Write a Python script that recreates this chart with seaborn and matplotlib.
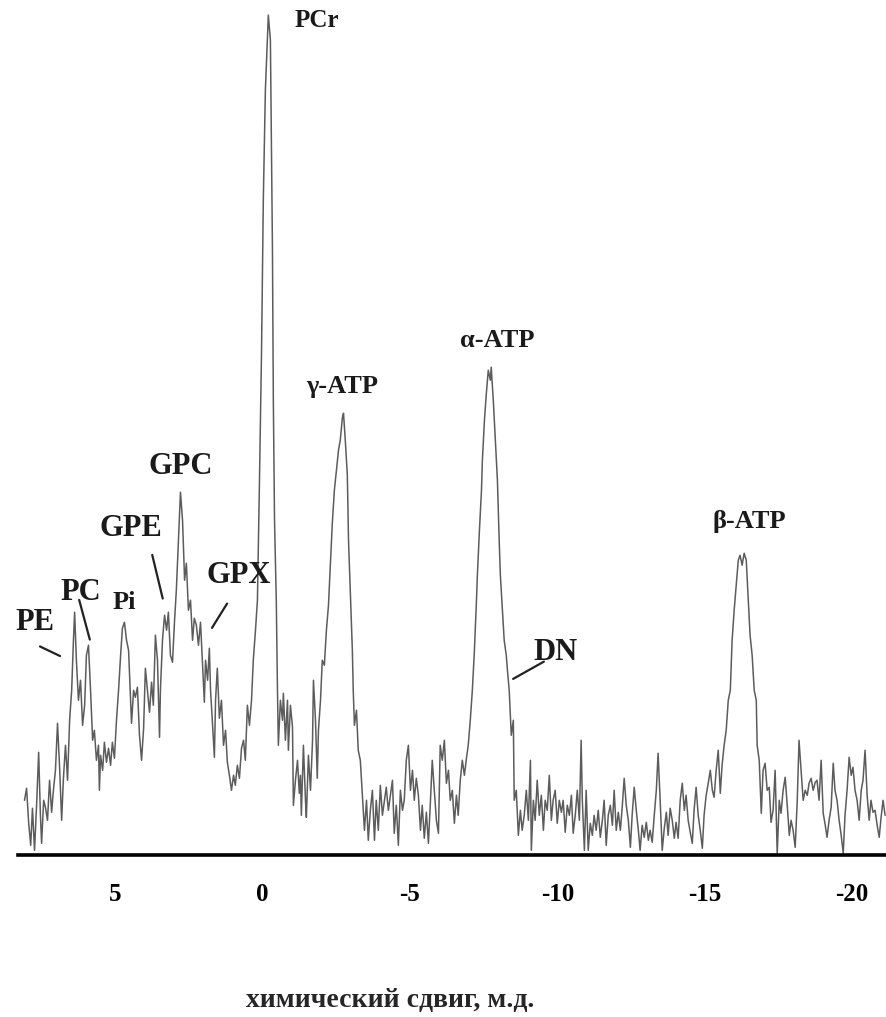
import numpy as np
import pandas as pd
import matplotlib
matplotlib.use("Agg")
import matplotlib.pyplot as plt
import seaborn as sns

# ── Spectrum data (31P MRS), chemical shift in ppm, intensity in a.u. ─────
# PME / Pi / PDE region
pme_pde_ppm = [8.07, 8.00, 7.93, 7.86, 7.80, 7.73, 7.66, 7.59, 7.53, 7.49,
               7.42, 7.36, 7.29, 7.22, 7.15, 7.09, 7.02, 6.95, 6.88, 6.81,
               6.75, 6.68, 6.61, 6.54, 6.47, 6.41, 6.37, 6.31, 6.24, 6.17,
               6.10, 6.03, 5.97, 5.90, 5.83, 5.76, 5.70, 5.63, 5.56, 5.53,
               5.49, 5.42, 5.36, 5.29, 5.22, 5.15, 5.09, 5.02, 4.95, 4.88,
               4.81, 4.75, 4.68, 4.61, 4.54, 4.47, 4.44, 4.37, 4.31, 4.24,
               4.17, 4.10, 4.03, 3.97, 3.90, 3.83, 3.76, 3.70, 3.63, 3.56,
               3.49, 3.46, 3.39, 3.32, 3.25, 3.19, 3.12, 3.05, 2.98, 2.92,
               2.85, 2.78, 2.71, 2.64, 2.58, 2.51, 2.44, 2.37, 2.31, 2.24,
               2.17, 2.10, 2.03, 1.97, 1.93, 1.86, 1.80, 1.76, 1.70, 1.63,
               1.59, 1.53, 1.46, 1.39, 1.32, 1.25, 1.19, 1.12, 1.05, 0.98,
               0.92, 0.85, 0.78, 0.71, 0.64, 0.58, 0.51, 0.44, 0.37, 0.31, 0.24]
pme_pde_int = [0.0, 1.2, -2.2, -4.5, -0.8, -5.0, -0.5, 4.8, -1.5, -4.3,
               0.0, -0.7, -2.0, 2.0, -1.2, 1.0, 3.0, 7.7, 3.3, -2.0,
               2.2, 5.5, 2.0, 8.0, 11.0, 16.0, 18.8, 14.0, 10.0, 12.0,
               7.5, 9.5, 14.5, 15.5, 11.0, 6.0, 7.0, 4.0, 5.5, 1.0,
               4.5, 3.0, 5.8, 3.8, 5.2, 3.5, 5.8, 4.2, 8.0, 11.0,
               14.5, 17.2, 17.8, 16.0, 15.0, 10.0, 7.7, 11.0, 10.3, 11.3,
               6.5, 4.0, 7.2, 13.2, 11.0, 8.8, 11.8, 9.5, 16.5, 14.0,
               6.3, 11.0, 16.0, 18.5, 17.0, 18.8, 14.5, 13.8, 18.0, 21.0,
               26.0, 30.8, 28.0, 22.0, 23.7, 19.0, 20.0, 16.0, 18.2, 17.5,
               15.5, 17.8, 13.5, 9.8, 14.0, 12.0, 15.2, 11.0, 8.0, 4.3,
               10.0, 13.2, 8.2, 10.0, 5.5, 7.0, 3.8, 2.5, 1.0, 2.5,
               1.5, 3.5, 2.2, 5.2, 6.0, 4.0, 9.5, 7.5, 10.0, 14.0, 16.8]

# PCr
pcr_ppm = [0.17, 0.10, 0.03, -0.03, -0.10, -0.20, -0.27, -0.34, -0.37, -0.41,
           -0.47, -0.51, -0.54, -0.61, -0.68, -0.71, -0.78, -0.85, -0.88, -0.95,
           -1.02, -1.05, -1.12, -1.19, -1.25, -1.29, -1.32, -1.39, -1.46, -1.49,
           -1.56, -1.63]
pcr_int = [20.0, 32.0, 45.0, 60.0, 71.0, 78.5, 76.0, 55.0, 40.0, 28.0,
           20.0, 11.0, 5.5, 10.0, 8.0, 10.7, 6.0, 10.0, 5.0, 9.5,
           7.3, -0.5, 2.0, 4.0, 0.7, 2.5, -1.5, 5.5, 0.0, -1.7,
           4.5, 1.0]

# gamma-ATP
gatp_ppm = [-1.70, -1.73, -1.80, -1.86, -1.90, -1.97, -2.03, -2.10, -2.17, -2.24,
            -2.31, -2.37, -2.44, -2.51, -2.58, -2.64, -2.71, -2.75, -2.81, -2.88,
            -2.92, -2.98, -3.05, -3.08, -3.12, -3.19, -3.25, -3.32, -3.39, -3.46,
            -3.53, -3.59, -3.66, -3.73, -3.80, -3.86, -3.93, -4.00, -4.07, -4.14,
            -4.20, -4.27, -4.34, -4.41, -4.47, -4.54, -4.61, -4.68, -4.75, -4.81,
            -4.88, -4.95, -5.02, -5.09, -5.15, -5.22, -5.29, -5.36, -5.42, -5.49,
            -5.56, -5.63, -5.70, -5.76, -5.83, -5.90, -5.97, -6.03, -6.10, -6.17,
            -6.24, -6.31, -6.37, -6.44, -6.51, -6.58, -6.64, -6.71, -6.78, -6.85,
            -6.92, -6.98]
gatp_int = [6.0, 12.0, 8.0, 2.2, 7.0, 10.0, 14.0, 13.5, 17.0, 19.5,
            24.0, 27.7, 31.0, 33.0, 35.0, 36.0, 38.2, 38.7, 36.0, 32.5,
            26.0, 21.0, 15.0, 11.0, 7.5, 9.0, 5.0, 4.0, 0.5, -3.0,
            0.0, -4.0, -1.0, 1.0, -4.0, 0.0, -3.0, 1.5, -1.5, 0.0,
            1.3, -1.0, 0.5, 2.0, -3.3, -0.5, -4.5, 1.0, -1.0, 0.0,
            4.0, 5.5, 1.0, 3.0, 0.0, 2.2, 0.5, -3.0, -0.5, -3.8,
            -1.2, -4.3, 0.0, 4.0, 1.0, -2.0, -3.3, 5.5, 4.0, 6.0,
            1.7, 3.0, 0.0, 1.0, -2.3, 0.5, -1.5, 2.0, 4.0, 2.5,
            4.2, 5.5]

# alpha-ATP (+ DN shoulder)
aatp_ppm = [-7.05, -7.12, -7.19, -7.26, -7.29, -7.36, -7.43, -7.46, -7.53, -7.59,
            -7.66, -7.73, -7.76, -7.83, -7.90, -7.97, -8.03, -8.07, -8.14, -8.20,
            -8.27, -8.31, -8.37, -8.44, -8.51, -8.54, -8.61, -8.68, -8.75, -8.81,
            -8.88, -8.95, -9.02, -9.09, -9.12, -9.19, -9.25, -9.32, -9.39, -9.46,
            -9.53, -9.59, -9.66, -9.73, -9.80, -9.86, -9.93, -10.00, -10.07, -10.14,
            -10.20, -10.27, -10.34, -10.41, -10.48, -10.54, -10.61, -10.68, -10.75, -10.81,
            -10.85, -10.92]
aatp_int = [8.0, 11.0, 15.0, 20.0, 22.5, 27.0, 31.0, 34.0, 38.0, 40.5,
            43.0, 42.0, 43.3, 40.0, 36.0, 32.0, 26.0, 22.5, 19.0, 16.0,
            14.5, 13.0, 11.0, 6.5, 8.0, 0.0, 1.0, -3.5, -1.0, -3.0,
            -1.5, 1.0, -2.0, 4.0, -5.0, 0.0, -2.0, 2.0, -1.5, 0.5,
            -3.0, 0.0, -1.0, 2.5, -2.0, 0.0, 1.0, -2.3, 0.0, -1.2,
            0.0, -3.2, -0.5, -1.5, 0.5, -3.3, -1.5, 1.0, -2.0, 6.0,
            0.0, -5.0]

# baseline between alpha- and beta-ATP
base_ppm = [-10.98, -11.05, -11.12, -11.19, -11.25, -11.32, -11.39, -11.46, -11.53, -11.59,
            -11.66, -11.73, -11.80, -11.87, -11.93, -12.00, -12.07, -12.14, -12.20, -12.27,
            -12.34, -12.41, -12.48, -12.54, -12.61, -12.68, -12.75, -12.81, -12.88, -12.95,
            -13.02, -13.09, -13.15, -13.22, -13.29, -13.36, -13.42, -13.49, -13.56, -13.63,
            -13.70, -13.76, -13.83, -13.90, -13.97, -14.03, -14.10, -14.17, -14.24, -14.31,
            -14.37, -14.44, -14.51, -14.58, -14.64, -14.71, -14.78, -14.85, -14.92, -14.98,
            -15.05, -15.12, -15.19, -15.26, -15.32, -15.39, -15.46, -15.53, -15.59, -15.66]
base_int = [1.0, -5.0, -2.3, -3.5, -1.5, -3.0, -1.0, -3.7, -2.0, 0.0,
            -4.5, -1.5, -0.5, -2.5, 1.0, -3.0, -1.2, -3.0, -0.8, 2.2,
            -0.5, -2.0, -4.7, -1.5, 1.3, -1.0, -3.0, -5.0, -2.5, -3.7,
            -2.2, -4.0, -3.0, -4.2, -1.5, 1.0, 4.7, 0.0, -5.0, -2.8,
            -1.2, -3.5, -0.8, -2.0, -3.8, -2.2, -3.8, 0.0, 1.7, -1.0,
            0.5, -2.0, -3.2, -4.3, -1.0, 1.3, -1.5, -3.0, -4.8, -1.5,
            0.5, 1.7, 3.0, 1.0, 0.3, 3.0, 5.0, 0.7, 3.5, 5.5]

# beta-ATP and tail
batp_ppm = [-15.73, -15.80, -15.87, -15.93, -16.00, -16.07, -16.14, -16.20, -16.27, -16.34,
            -16.41, -16.48, -16.54, -16.61, -16.68, -16.75, -16.78, -16.85, -16.92, -16.98,
            -17.05, -17.12, -17.19, -17.25, -17.32, -17.39, -17.46, -17.53, -17.59, -17.66,
            -17.73, -17.80, -17.87, -17.93, -18.00, -18.07, -18.14, -18.20, -18.27, -18.34,
            -18.41, -18.48, -18.54, -18.61, -18.68, -18.75, -18.81, -18.88, -18.95, -19.02,
            -19.09, -19.15, -19.22, -19.29, -19.36, -19.42, -19.49, -19.56, -19.63, -19.70,
            -19.76, -19.83, -19.90, -19.97, -20.03, -20.10, -20.17, -20.24, -20.31, -20.37,
            -20.44, -20.51, -20.58, -20.64, -20.71, -20.78, -20.85, -20.92, -20.98, -21.05,
            -21.12]
batp_int = [7.0, 10.0, 11.0, 16.0, 19.0, 21.5, 24.0, 24.5, 23.5, 24.7,
            24.0, 20.0, 16.5, 14.5, 11.0, 10.0, 5.5, 4.0, -1.3, 3.0,
            3.7, 1.0, 1.3, -2.2, -1.0, 3.0, -5.3, 0.0, -1.3, 1.0,
            2.3, -0.5, -3.5, -2.0, -3.0, -4.7, 0.0, 6.0, 3.0, 0.0,
            1.0, 0.5, 1.7, 2.2, 1.0, 1.8, 2.0, 0.0, 4.0, -1.3,
            -2.5, -3.7, -2.0, -0.7, 3.7, 1.0, 0.0, -2.0, -3.5, -5.3,
            -1.5, 1.0, 4.3, 2.5, 3.3, 1.0, 0.0, -2.0, 1.0, 2.0,
            5.0, 0.5, -2.0, 0.0, -1.2, -1.0, -2.5, -3.7, -1.8, 0.0,
            -1.5]

tick_values = [5, 0, -5, -10, -15, -20]

# peak labels
peak_names = ["PCr", "γ-ATP", "α-ATP", "β-ATP", "GPC", "GPE", "GPX", "PC", "Pi", "PE", "DN"]

df = pd.DataFrame({
    "ppm": pme_pde_ppm + pcr_ppm + gatp_ppm + aatp_ppm + base_ppm + batp_ppm,
    "intensity": pme_pde_int + pcr_int + gatp_int + aatp_int + base_int + batp_int,
})

# ── Plot ───────────────────────────────────────────────────────────────────
sns.set_style("white")
plt.rcParams["font.family"] = ["Liberation Serif", "DejaVu Serif"]
plt.rcParams["axes.unicode_minus"] = False

fig = plt.figure(figsize=(8.86, 10.17), dpi=100)
ax = fig.add_axes([0.02, 0.159, 0.98, 0.836])

sns.lineplot(data=df, x="ppm", y="intensity", estimator=None, sort=False,
             color="#5c5c5c", linewidth=1.1, ax=ax)

ax.set_xlim(8.3, -21.15)
ax.set_ylim(-5.5, 79.5)

for side in ["left", "top", "right"]:
    ax.spines[side].set_visible(False)
ax.spines["bottom"].set_linewidth(2.6)
ax.spines["bottom"].set_color("black")

ax.set_yticks([])
ax.set_ylabel("")
ax.set_xticks(tick_values)
ax.set_xticklabels([str(v) for v in tick_values], fontsize=18, fontweight="bold")
ax.tick_params(axis="x", direction="out", length=11, width=2, pad=9, colors="black")

ax.set_xlabel("химический сдвиг, м.д.", fontsize=20, fontweight="bold")
ax.xaxis.label.set_va("center")
ax.xaxis.set_label_coords(0.4286, -0.171)

# label placement (layout)
label_pos = {
    "PCr": (-1.85, 78.0, 18), "γ-ATP": (-2.70, 41.4, 19), "α-ATP": (-7.97, 46.0, 19),
    "β-ATP": (-16.51, 27.9, 19), "GPC": (2.78, 33.4, 22), "GPE": (4.47, 27.2, 22),
    "GPX": (0.81, 22.5, 22), "PC": (6.17, 20.8, 22), "Pi": (4.70, 19.8, 19),
    "PE": (7.70, 17.8, 22), "DN": (-9.93, 14.8, 22),
}
for name in peak_names:
    x, y, fs = label_pos[name]
    ax.text(x, y, name, ha="center", va="center", fontsize=fs,
            fontweight="bold", color="#1a1a1a")

# leader lines
leaders = [((7.63, 15.5), (6.78, 14.3)),
           ((6.24, 20.3), (5.83, 15.8)),
           ((3.76, 24.8), (3.36, 19.9)),
           ((1.15, 19.9), (1.76, 17.0)),
           ((-9.63, 14.0), (-8.42, 12.0))]
for start, end in leaders:
    ax.annotate("", xy=end, xytext=start,
                arrowprops=dict(arrowstyle="-", lw=1.6, color="#222222"))

fig.savefig("out.png", dpi=100)
